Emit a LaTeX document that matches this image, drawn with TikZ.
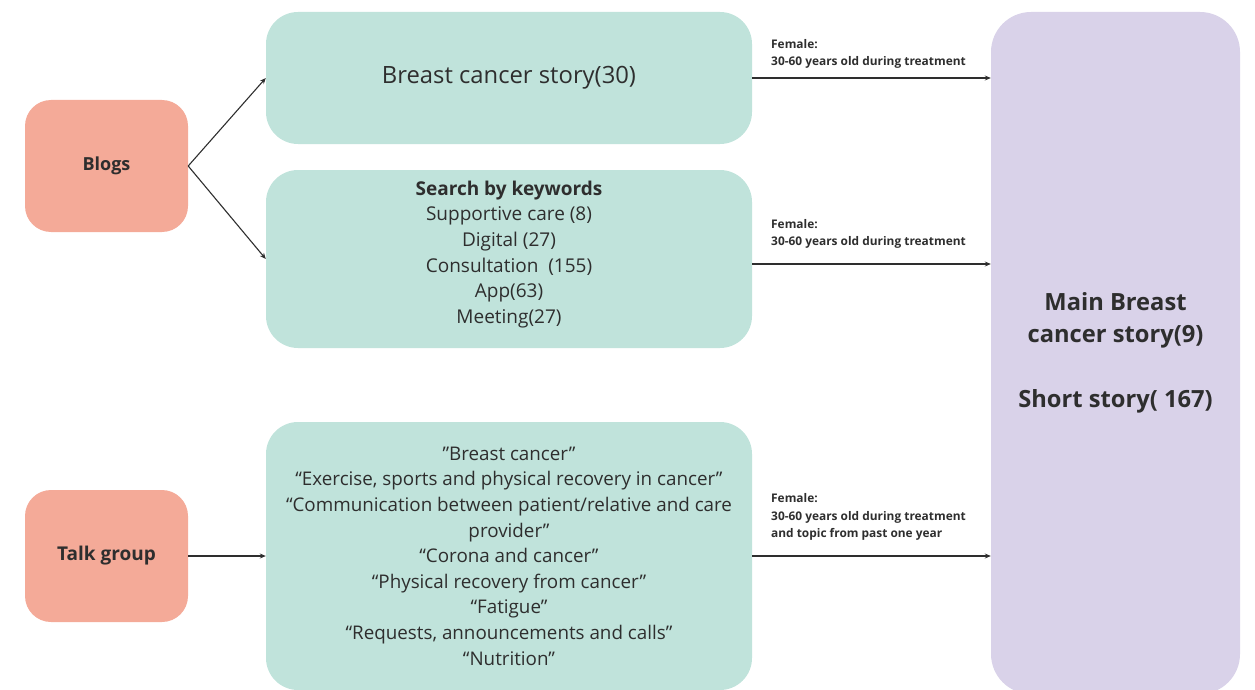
\documentclass[tikz,border=0pt]{standalone}
\usepackage{fontspec}
\setmainfont{Open Sans}
\usetikzlibrary{arrows.meta}
\definecolor{salmon}{HTML}{F4AA98}
\definecolor{teal}{HTML}{C0E3DB}
\definecolor{lav}{HTML}{D9D2E9}
\definecolor{ink}{HTML}{2E2E2E}
\begin{document}
\begin{tikzpicture}[x=1pt,y=-1pt,
  srcbox/.style={fill=salmon,rounded corners=26pt,minimum width=163pt,minimum height=132pt,inner sep=0pt,text=ink,font=\fontsize{19}{22}\selectfont\bfseries},
  tealbox/.style={fill=teal,rounded corners=32pt,minimum width=486pt,inner sep=0pt,text=ink,align=center},
  lab/.style={anchor=south west,align=left,inner sep=0pt,text=ink,font=\fontsize{11.9}{17.5}\selectfont\bfseries},
  arr/.style={-{Stealth[length=6pt,width=5pt]},line width=1.1pt,draw=ink}]
\useasboundingbox (0,0) rectangle (1255,690);
\node[srcbox] (blogs) at (106.5,166) {\fontsize{18}{22}\selectfont Blogs};
\node[srcbox] (talk) at (106.5,556) {Talk group};
\node[tealbox,minimum height=132pt,font=\fontsize{23.8}{26}\selectfont] (story) at (509,78) {\raisebox{-2pt}{Breast cancer story(30)}};
\node[tealbox,minimum height=178pt,font=\fontsize{19}{25.7}\selectfont] (search) at (509,259) {\textbf{Search by keywords}\\Supportive care (8)\\Digital (27)\\Consultation\ \ (155)\\App(63)\\Meeting(27)\\[-12pt]\mbox{}};
\node[tealbox,minimum height=268pt,font=\fontsize{18.8}{25.6}\selectfont] (topics) at (509,556) {”Breast cancer”\\“Exercise, sports and physical recovery in cancer”\\“Communication between patient/relative and care\\provider”\\“Corona and cancer”\\“Physical recovery from cancer”\\“Fatigue”\\“Requests, announcements and calls”\\“Nutrition”};
\node[fill=lav,rounded corners=40pt,minimum width=249pt,minimum height=682pt,inner sep=0pt,text=ink,align=center,font=\fontsize{23.7}{32.5}\selectfont\bfseries] (main) at (1115.5,353) {Main Breast\\cancer story(9)\\[32.5pt]Short story( 167)};
\draw[arr] (blogs.east) -- (story.west);
\draw[arr] (blogs.east) -- (search.west);
\draw[arr] (talk.east) -- (topics.west);
\draw[arr] (story.east) -- (story.east -| main.west);
\draw[arr] (search.east) ++(0,5) coordinate (s2) -- (s2 -| main.west);
\draw[arr] (topics.east) -- (topics.east -| main.west);
\node[lab] (l1) at (771,69) {Female:\\30-60 years old during treatment};
\node[lab] (l2) at (771,249) {Female:\\30-60 years old during treatment};
\node[lab] (l3) at (771,541) {Female:\\30-60 years old during treatment\\and topic from past one year};
\end{tikzpicture}
\end{document}
